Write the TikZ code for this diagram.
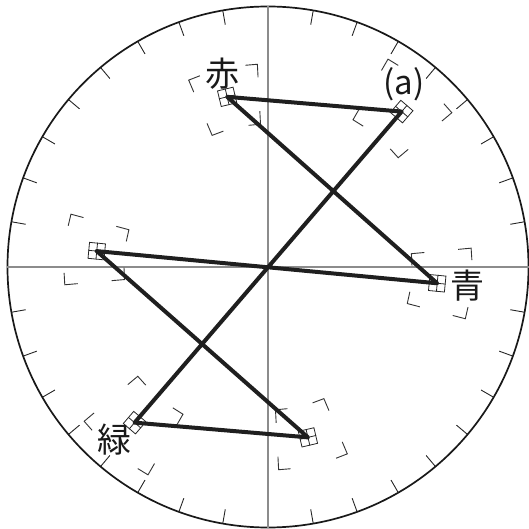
\documentclass[tikz,border=0pt]{standalone}
\usepackage{fontspec}
\setmainfont{Noto Sans CJK JP}
\begin{document}
\begin{tikzpicture}[x=1pt,y=1pt,
  rim/.style={line width=1.7pt,draw=black!90},
  axis/.style={line width=1.7pt,draw=black!45},
  tick/.style={line width=0.9pt,draw=black!85},
  bracket/.style={line width=0.9pt,draw=black!80},
  gridbox/.style={draw=black!85,line width=0.8pt,minimum size=16pt,inner sep=0pt,shape=rectangle},
  trace/.style={line width=4pt,draw=black!88,line join=round,line cap=round},
  lab/.style={inner sep=0pt,text=black!90},
]
\useasboundingbox (-268,-262) rectangle (260,267);
% circle and axes
\draw[rim] (0,0) circle (260.5);
\coordinate (L) at (-260.5,0);
\coordinate (Rt) at (260.5,0);
\coordinate (T) at (0,260.5);
\coordinate (Bt) at (0,-260.5);
\draw[axis] (L) -- (Rt);
\draw[axis] (T) -- (Bt);
% ticks
\foreach \a in {0,10,...,350}{
  \pgfmathtruncatemacro\m{mod(\a,90)}
  \ifnum\m=0\relax\else
    \draw[tick] (\a:246) -- (\a:260);
  \fi
}
% target brackets: a1 a2 r1 r2
\newcommand\tgtbr[4]{%
  \pgfmathsetmacro\dA{12/#3*57.2958}%
  \pgfmathsetmacro\dB{12/#4*57.2958}%
  \draw[bracket] ({#1+\dA}:{#3}) -- ({#1}:{#3}) -- ({#1}:{#3+13});
  \draw[bracket] ({#1+\dB}:{#4}) -- ({#1}:{#4}) -- ({#1}:{#4-13});
  \draw[bracket] ({#2-\dA}:{#3}) -- ({#2}:{#3}) -- ({#2}:{#3+13});
  \draw[bracket] ({#2-\dB}:{#4}) -- ({#2}:{#4}) -- ({#2}:{#4-13});
}
\tgtbr{93}{113}{143}{203}
\tgtbr{273}{293}{143}{203}
\tgtbr{40}{60}{170}{240}
\tgtbr{220}{240}{170}{240}
\tgtbr{-14.7}{5.3}{144}{204}
\tgtbr{165}{185}{144}{204}
% small grid boxes
\node[gridbox,rotate=13.5] (R) at (103.5:175) {};
\node[gridbox,rotate=-40.7] (Mg) at (49.3:205) {};
\node[gridbox,rotate=-95.5] (B) at (-5.5:170) {};
\node[gridbox,rotate=84.5] (Yl) at (174.7:172) {};
\node[gridbox,rotate=139.5] (G) at (229.4:205) {};
\node[gridbox,rotate=-166.8] (Cy) at (283.2:175) {};
\foreach \n in {R,Mg,B,Yl,G,Cy}{
  \draw[draw=black!85,line width=0.8pt] (\n.north) -- (\n.south) (\n.east) -- (\n.west);
}
% trace
\draw[trace] (Yl.center) -- (Cy.center) -- (G.center) -- (Mg.center) -- (R.center) -- (B.center) -- (Yl.center);
% labels
\node[lab,font=\fontsize{34}{34}\selectfont] (lR) at (-46,193) {赤};
\node[lab,font=\fontsize{33}{33}\selectfont] (lMg) at (136,183) {(a)};
\node[lab,font=\fontsize{34}{34}\selectfont] (lB) at (199,-19) {青};
\node[lab,font=\fontsize{34}{34}\selectfont] (lG) at (-153,-173) {緑};
\end{tikzpicture}
\end{document}
